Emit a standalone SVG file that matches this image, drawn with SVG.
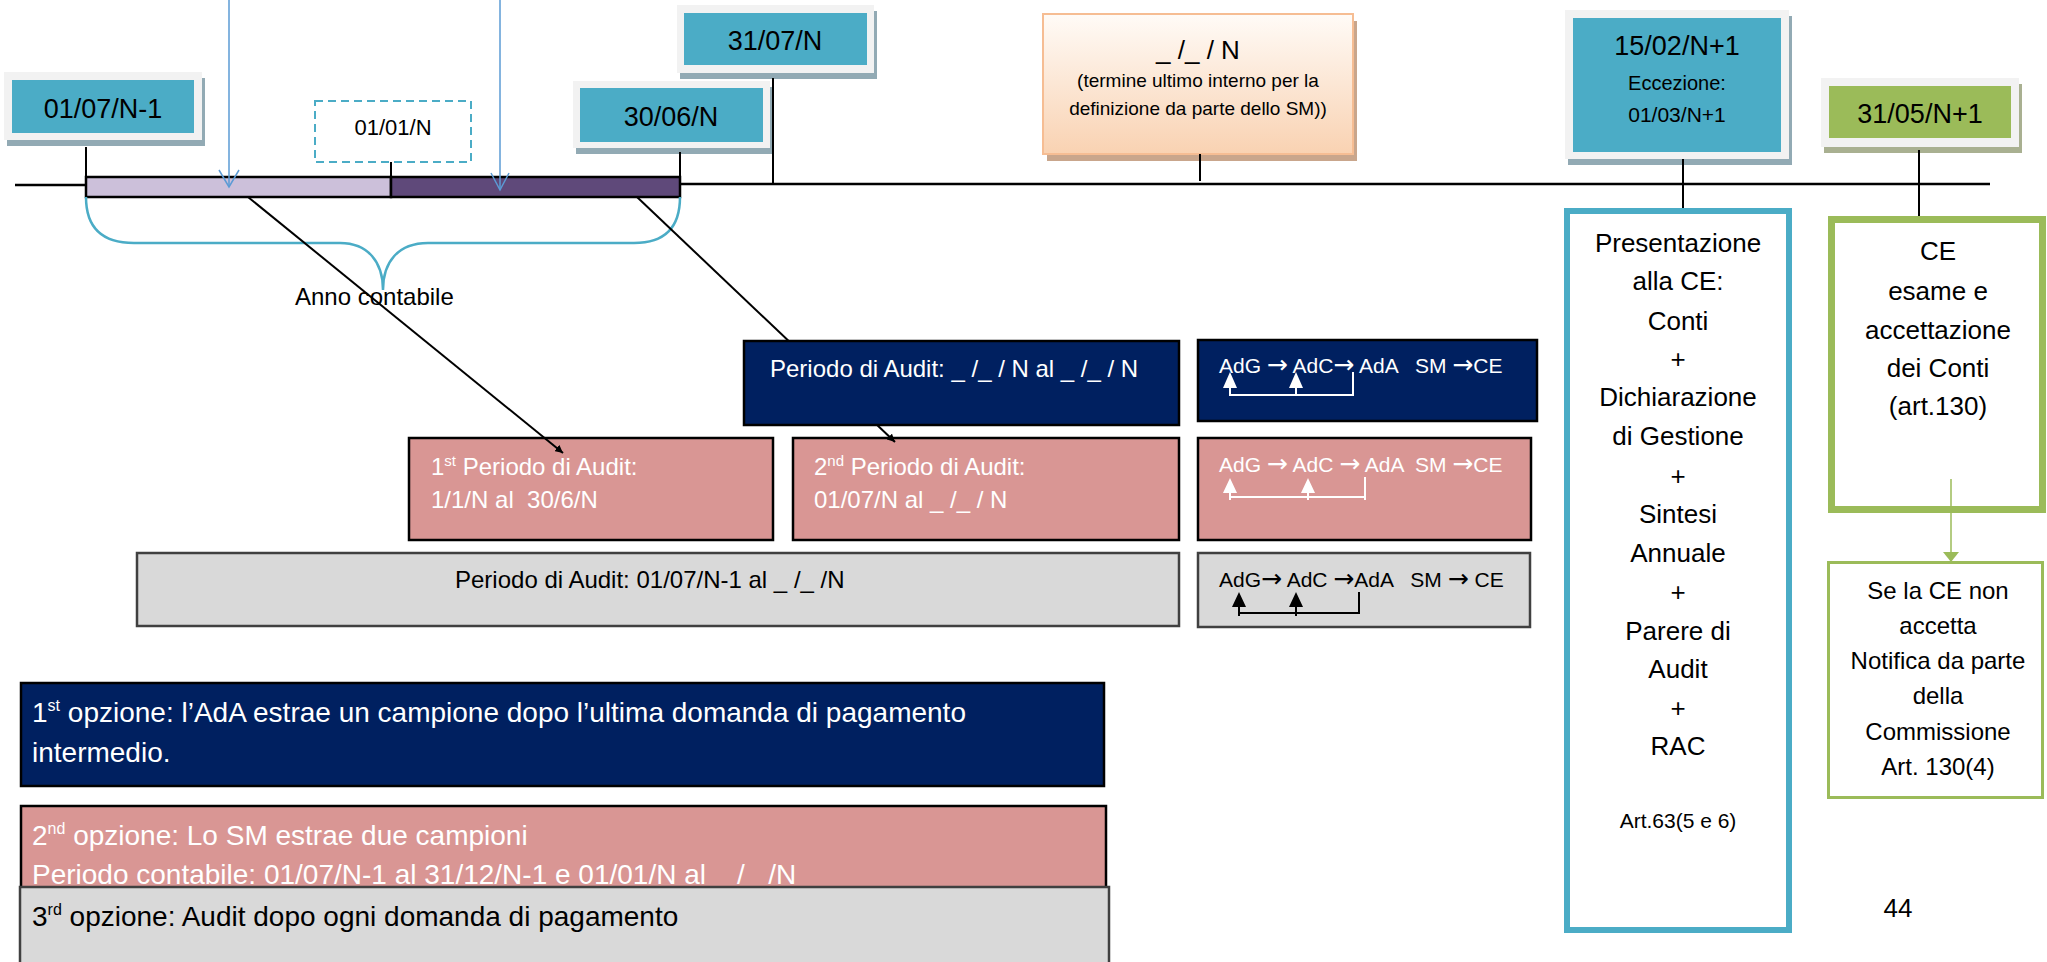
<svg xmlns="http://www.w3.org/2000/svg" width="2047" height="962" viewBox="0 0 2047 962">
<style>
text{font-family:"Liberation Sans",Arial,sans-serif;}
.pre{white-space:pre;}
.ar{font-family:"DejaVu Sans",sans-serif;font-size:25px;}
.frame{fill:#f2f2f2;}
.shT{fill:#92aab4;}
.shG{fill:#a9b091;}
.teal{fill:#4bacc6;}
.date{font-size:27px;fill:#000;text-anchor:middle;}
.navy{fill:#002060;stroke:#000;stroke-width:2.5;}
.pink{fill:#d99694;stroke:#000;stroke-width:2.5;}
.grey{fill:#d9d9d9;stroke:#404040;stroke-width:2.5;}
.wt{fill:#fff;font-size:24px;}
.bt{fill:#000;font-size:24px;}
.adg{font-size:21px;}
.opt{font-size:28px;}
.ln{stroke:#000;stroke-width:2.5;fill:none;}
.thin{stroke:#000;stroke-width:2;fill:none;}
.wl{stroke:#fff;stroke-width:2;fill:none;}
.bl{stroke:#000;stroke-width:2;fill:none;}
.ctr{text-anchor:middle;font-size:26px;fill:#000;}
.ctr24{text-anchor:middle;font-size:24px;fill:#000;}
.blue{stroke:#5b9bd5;stroke-width:1.5;fill:none;}
</style>
<defs>
<marker id="ah" viewBox="0 0 10 10" refX="10" refY="5" markerWidth="8" markerHeight="8" markerUnits="userSpaceOnUse" orient="auto">
<path d="M0,0 L10,5 L0,10 z" fill="#000"/>
</marker>
<linearGradient id="og" x1="0" y1="0" x2="0" y2="1">
<stop offset="0" stop-color="#fffbf7"/>
<stop offset="1" stop-color="#f9d2b2"/>
</linearGradient>
</defs>

<g id="timeline">
<rect x="86" y="177" width="305" height="20" fill="#ccc0da" stroke="#000" stroke-width="2.5"/>
<rect x="391" y="177" width="289" height="20" fill="#5f497a" stroke="#000" stroke-width="2.5"/>
<path d="M86,197 C86,228 102,243 134,243 L340,243 C368,243 383,262 383,290 C383,262 398,243 428,243 L634,243 C664,243 680,228 680,197" fill="none" stroke="#4bacc6" stroke-width="2.5"/>
<text x="295" y="305" class="bt">Anno contabile</text>
</g>

<g id="n-0107">
<rect x="7" y="78" width="198" height="68" class="shT"/>
<rect x="4" y="72" width="198" height="68" class="frame"/>
<rect x="12" y="80" width="182" height="53" class="teal"/>
<text x="103" y="118" class="date">01/07/N-1</text>
</g>

<g id="n-0101">
<rect x="315" y="101" width="156" height="61" fill="#fff" stroke="#4bacc6" stroke-width="2" stroke-dasharray="8,5"/>
<text x="393" y="135" text-anchor="middle" font-size="22">01/01/N</text>
</g>

<g id="n-3006">
<rect x="576" y="87" width="197" height="67" class="shT"/>
<rect x="573" y="81" width="197" height="67" class="frame"/>
<rect x="580" y="88" width="183" height="54" class="teal"/>
<text x="671" y="126" class="date">30/06/N</text>
</g>

<g id="n-3107">
<rect x="680" y="11" width="197" height="68" class="shT"/>
<rect x="677" y="5" width="197" height="68" class="frame"/>
<rect x="684" y="13" width="183" height="52" class="teal"/>
<text x="775" y="50" class="date">31/07/N</text>
</g>

<g id="n-termine">
<rect x="1047" y="21" width="310" height="140" fill="#c9a68c"/>
<rect x="1043" y="14" width="310" height="140" fill="url(#og)" stroke="#f6bd93" stroke-width="2"/>
<text x="1198" y="59" text-anchor="middle" font-size="26">_ /_ / N</text>
<text x="1198" y="87" text-anchor="middle" font-size="19">(termine ultimo interno per la</text>
<text x="1198" y="115" text-anchor="middle" font-size="19">definizione da parte dello SM))</text>
</g>

<g id="n-1502">
<rect x="1568" y="16" width="224" height="149" class="shT"/>
<rect x="1565" y="10" width="224" height="149" class="frame"/>
<rect x="1573" y="18" width="208" height="134" class="teal"/>
<text x="1677" y="55" class="date">15/02/N+1</text>
<text x="1677" y="90" text-anchor="middle" font-size="20">Eccezione:</text>
<text x="1677" y="122" text-anchor="middle" font-size="21">01/03/N+1</text>
</g>

<g id="n-3105">
<rect x="1824" y="84" width="198" height="69" class="shG"/>
<rect x="1821" y="78" width="198" height="69" class="frame"/>
<rect x="1829" y="86" width="182" height="52" fill="#9bbb59"/>
<text x="1920" y="123" class="date">31/05/N+1</text>
</g>

<g id="n-presentazione">
<rect x="1567" y="211" width="222" height="719" fill="#fff" stroke="#4bacc6" stroke-width="6"/>
<text class="ctr" x="1678" y="252">Presentazione</text>
<text class="ctr" x="1678" y="290">alla CE:</text>
<text class="ctr" x="1678" y="330">Conti</text>
<text class="ctr" x="1678" y="368">+</text>
<text class="ctr" x="1678" y="406">Dichiarazione</text>
<text class="ctr" x="1678" y="445">di Gestione</text>
<text class="ctr" x="1678" y="485">+</text>
<text class="ctr" x="1678" y="523">Sintesi</text>
<text class="ctr" x="1678" y="562">Annuale</text>
<text class="ctr" x="1678" y="601">+</text>
<text class="ctr" x="1678" y="640">Parere di</text>
<text class="ctr" x="1678" y="678">Audit</text>
<text class="ctr" x="1678" y="717">+</text>
<text class="ctr" x="1678" y="755">RAC</text>
<text x="1678" y="828" text-anchor="middle" font-size="21">Art.63(5 e 6)</text>
</g>

<g id="n-ce">
<rect x="1831.5" y="219.5" width="211" height="290" fill="#fff" stroke="#9bbb59" stroke-width="7"/>
<text class="ctr" x="1938" y="260">CE</text>
<text class="ctr" x="1938" y="300">esame e</text>
<text class="ctr" x="1938" y="339">accettazione</text>
<text class="ctr" x="1938" y="377">dei Conti</text>
<text class="ctr" x="1938" y="415">(art.130)</text>
</g>

<g id="n-notifica">
<rect x="1828.5" y="562.5" width="214" height="235" fill="#fff" stroke="#9bbb59" stroke-width="3"/>
<text class="ctr24" x="1938" y="599">Se la CE non</text>
<text class="ctr24" x="1938" y="634">accetta</text>
<text class="ctr24" x="1938" y="669">Notifica da parte</text>
<text class="ctr24" x="1938" y="704">della</text>
<text class="ctr24" x="1938" y="740">Commissione</text>
<text class="ctr24" x="1938" y="775">Art. 130(4)</text>
</g>

<g id="n-flow1">
<rect x="1198" y="340" width="339" height="81" class="navy"/>
<text x="1219" y="373" class="wt adg pre">AdG <tspan class="ar">→</tspan> AdC<tspan class="ar">→</tspan> AdA   SM <tspan class="ar">→</tspan>CE</text>
<polyline points="1230,387 1230,395 1353,395 1353,372" class="wl"/>
<line x1="1296" y1="387" x2="1296" y2="395" class="wl"/>
<polygon points="1223,388 1237,388 1230,372" fill="#fff"/>
<polygon points="1289,388 1303,388 1296,372" fill="#fff"/>
</g>

<g id="n-flow2">
<rect x="1198" y="438" width="333" height="102" class="pink"/>
<text x="1219" y="472" class="wt adg pre">AdG <tspan class="ar">→</tspan> AdC <tspan class="ar">→</tspan> AdA  SM <tspan class="ar">→</tspan>CE</text>
<line x1="1230" y1="492" x2="1230" y2="500" class="wl"/>
<line x1="1230" y1="497" x2="1365" y2="497" class="wl"/>
<line x1="1365" y1="477" x2="1365" y2="500" class="wl"/>
<line x1="1308" y1="492" x2="1308" y2="500" class="wl"/>
<polygon points="1223,493 1237,493 1230,478" fill="#fff"/>
<polygon points="1301,493 1315,493 1308,478" fill="#fff"/>
</g>

<g id="n-flow3">
<rect x="1198" y="553" width="332" height="74" class="grey"/>
<text x="1219" y="587" class="bt adg pre">AdG<tspan class="ar">→</tspan> AdC <tspan class="ar">→</tspan>AdA   SM <tspan class="ar">→</tspan> CE</text>
<line x1="1239" y1="606" x2="1239" y2="616" class="bl"/>
<line x1="1296" y1="606" x2="1296" y2="616" class="bl"/>
<line x1="1239" y1="613" x2="1359" y2="613" class="bl"/>
<line x1="1359" y1="592" x2="1359" y2="614" class="bl"/>
<polygon points="1232,607 1246,607 1239,592" fill="#000"/>
<polygon points="1289,607 1303,607 1296,592" fill="#000"/>
</g>

<g id="n-p1">
<rect x="409" y="438" width="364" height="102" class="pink"/>
<text x="431" y="475" class="wt">1<tspan font-size="15" dy="-9">st</tspan><tspan dy="9"> Periodo di Audit:</tspan></text>
<text x="431" y="508" class="wt pre">1/1/N al  30/6/N</text>
</g>

<g id="n-p2">
<rect x="793" y="438" width="386" height="102" class="pink"/>
<text x="814" y="475" class="wt">2<tspan font-size="15" dy="-9">nd</tspan><tspan dy="9"> Periodo di Audit:</tspan></text>
<text x="814" y="508" class="wt pre">01/07/N al _ /_ / N</text>
</g>

<g id="n-pall">
<rect x="137" y="553" width="1042" height="73" class="grey"/>
<text x="455" y="588" class="bt pre">Periodo di Audit: 01/07/N-1 al _ /_ /N</text>
</g>

<g id="n-opt1">
<rect x="21" y="683" width="1083" height="103" class="navy"/>
<text x="32" y="722" class="wt opt">1<tspan font-size="16" dy="-11">st</tspan><tspan dy="11"> opzione: l’AdA estrae un campione dopo l’ultima domanda di pagamento</tspan></text>
<text x="32" y="762" class="wt opt">intermedio.</text>
</g>

<g id="n-opt2">
<rect x="21" y="806" width="1085" height="90" class="pink"/>
<text x="32" y="845" class="wt opt">2<tspan font-size="16" dy="-11">nd</tspan><tspan dy="11"> opzione: Lo SM estrae due campioni</tspan></text>
<text x="32" y="884" class="wt opt pre">Periodo contabile: 01/07/N-1 al 31/12/N-1 e 01/01/N al    /   /N</text>
</g>

<g id="n-opt3">
<rect x="20" y="887" width="1089" height="95" class="grey"/>
<text x="32" y="926" class="bt opt">3<tspan font-size="16" dy="-11">rd</tspan><tspan dy="11"> opzione: Audit dopo ogni domanda di pagamento</tspan></text>
</g>

<g id="page-number">
<text x="1898" y="917" text-anchor="middle" font-size="26">44</text>
</g>

<g id="connectors">
<line x1="15" y1="185" x2="86" y2="185" class="ln"/>
<line x1="680" y1="184" x2="1990" y2="184" class="ln"/>
<line x1="86" y1="147" x2="86" y2="177" class="thin"/>
<line x1="391" y1="162" x2="391" y2="177" class="thin"/>
<line x1="680" y1="152" x2="680" y2="177" class="thin"/>
<line x1="773" y1="78" x2="773" y2="184" class="thin"/>
<line x1="1200" y1="154" x2="1200" y2="181" class="thin"/>
<line x1="1683" y1="159" x2="1683" y2="208" class="thin"/>
<line x1="1919" y1="150" x2="1919" y2="216" class="thin"/>
<line x1="229" y1="0" x2="229" y2="187" class="blue"/>
<polyline points="219,170 229,187 239,170" class="blue"/>
<line x1="500" y1="0" x2="500" y2="190" class="blue"/>
<polyline points="491,173 500,190 509,173" class="blue"/>
<line x1="248" y1="197" x2="563" y2="453" stroke="#000" stroke-width="2" marker-end="url(#ah)"/>
<line x1="637" y1="197" x2="895" y2="442" stroke="#000" stroke-width="2" marker-end="url(#ah)"/>
<line x1="1951" y1="479" x2="1951" y2="552" stroke="#9bbb59" stroke-width="1.5"/>
<polygon points="1943,552 1959,552 1951,562" fill="#9bbb59"/>
</g>

<g id="n-pdark">
<rect x="744" y="341" width="435" height="84" class="navy"/>
<text x="770" y="377" class="wt pre">Periodo di Audit: _ /_ / N al _ /_ / N</text>
</g>
</svg>
